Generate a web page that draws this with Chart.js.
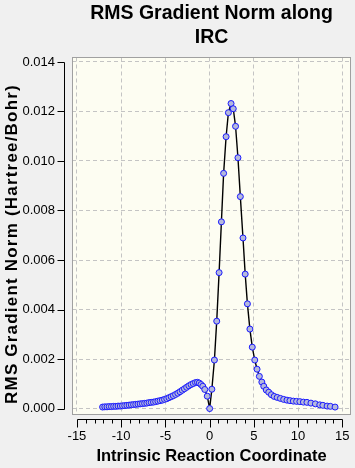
<!DOCTYPE html>
<html><head><meta charset="utf-8">
<script src="https://cdn.jsdelivr.net/npm/chart.js@4/dist/chart.umd.min.js"></script>
<style>html,body{margin:0;padding:0;background:#f0f0f0;overflow:hidden}</style>
</head><body>
<canvas id="c" width="355" height="468" style="display:block;width:355px;height:468px"></canvas>
<script>
// ---- data ----
const ircCoord = [
 -12.10,-11.85,-11.60,-11.35,-11.10,-10.85,-10.60,-10.35,-10.10,-9.85,
 -9.60,-9.35,-9.10,-8.85,-8.60,-8.35,-8.10,-7.85,-7.60,-7.35,
 -7.10,-6.85,-6.60,-6.35,-6.10,-5.85,-5.60,-5.35,-5.10,-4.85,
 -4.60,-4.35,-4.10,-3.85,-3.60,-3.35,-3.10,-2.85,-2.60,-2.35,
 -2.10,-1.85,-1.60,-1.38,-1.18,-0.98,-0.78,-0.55,-0.27,0.00,
 0.25,0.54,0.80,1.07,1.33,1.58,1.86,2.12,2.42,2.67,
 2.93,3.20,3.47,3.77,4.02,4.27,4.55,4.82,5.10,5.36,
 5.62,5.90,6.12,6.40,6.68,6.98,7.30,7.64,8.00,8.37,
 8.74,9.08,9.46,9.83,10.20,10.60,11.00,11.45,11.95,12.45,
 12.80,13.28,13.65,14.18
];
const rmsGradient = [
 0.00006,0.00007,0.00007,0.00008,0.00008,0.00009,0.00009,0.00010,0.00010,0.00011,
 0.00012,0.00013,0.00014,0.00015,0.00016,0.00017,0.00018,0.00019,0.00020,0.00021,
 0.00022,0.00024,0.00025,0.00026,0.00028,0.00030,0.00032,0.00034,0.00037,0.00040,
 0.00044,0.00048,0.00052,0.00057,0.00062,0.00068,0.00074,0.00080,0.00086,0.00092,
 0.00097,0.00101,0.00105,0.00106,0.00103,0.00097,0.00090,0.00077,0.00050,0.00000,
 0.00078,0.00196,0.00353,0.00549,0.00754,0.00950,0.01098,0.01195,0.01232,0.01211,
 0.01140,0.01013,0.00856,0.00689,0.00543,0.00423,0.00321,0.00248,0.00196,0.00159,
 0.00130,0.00107,0.00090,0.00075,0.00066,0.00056,0.00049,0.00045,0.00041,0.00037,
 0.00034,0.00032,0.00030,0.00029,0.00028,0.00026,0.00025,0.00022,0.00019,0.00015,
 0.00013,0.00010,0.00009,0.00006
];
const xTickValues = [-15,-10,-5,0,5,10,15];
const yTickValues = [0,0.002,0.004,0.006,0.008,0.010,0.012,0.014];
const chartTitle = ['RMS Gradient Norm along','IRC'];
const xAxisTitle = 'Intrinsic Reaction Coordinate';
const yAxisTitle = 'RMS Gradient Norm (Hartree/Bohr)';

const FONT = "'Liberation Sans', Arial, sans-serif";
const points = ircCoord.map((x,i)=>({x:x, y:rmsGradient[i]}));

const plotFrame = {
  id:'plotFrame',
  beforeDraw(chart){
    const {ctx, chartArea:a} = chart;
    ctx.save();
    ctx.fillStyle = '#fdfdf2';
    ctx.fillRect(a.left, a.top, a.right-a.left, a.bottom-a.top);
    ctx.restore();
  },
  afterDraw(chart){
    const {ctx, chartArea:a, scales:{x,y}} = chart;
    ctx.save();
    ctx.strokeStyle = '#a0a0a0'; ctx.lineWidth = 1;
    ctx.strokeRect(Math.round(a.left)+0.5, Math.round(a.top)+0.5, Math.round(a.right-a.left)-1, Math.round(a.bottom-a.top)-1);
    ctx.strokeStyle = '#000';
    // x axis (offset below plot)
    const ay = Math.round(a.bottom)+4.5;
    const x0 = x.getPixelForValue(xTickValues[0]);
    const x1 = x.getPixelForValue(xTickValues[xTickValues.length-1]);
    ctx.beginPath();
    ctx.moveTo(Math.round(x0)+0.5, ay); ctx.lineTo(Math.round(x1)+0.5, ay);
    for (let v = xTickValues[0]; v <= xTickValues[xTickValues.length-1]; v++) {
      const px = Math.round(x.getPixelForValue(v))+0.5;
      const len = xTickValues.includes(v) ? 8 : 4;
      ctx.moveTo(px, ay); ctx.lineTo(px, ay+len);
    }
    ctx.stroke();
    // y axis (offset left of plot)
    const ax = Math.round(a.left)-7.5;
    const y0 = y.getPixelForValue(yTickValues[0]);
    const y1 = y.getPixelForValue(yTickValues[yTickValues.length-1]);
    ctx.beginPath();
    ctx.moveTo(ax, Math.round(y0)+0.5); ctx.lineTo(ax, Math.round(y1)+0.5);
    yTickValues.forEach(v=>{
      const py = Math.round(y.getPixelForValue(v))+0.5;
      ctx.moveTo(ax, py); ctx.lineTo(ax-7, py);
    });
    ctx.stroke();
    // y axis title (rotated, slightly spaced)
    ctx.fillStyle = '#000';
    ctx.font = "bold 17px " + FONT;
    try { ctx.letterSpacing = '1.2px'; } catch(e) {}
    ctx.textAlign = 'center';
    ctx.textBaseline = 'middle';
    ctx.translate(12.5, 244);
    ctx.rotate(-Math.PI/2);
    ctx.fillText(yAxisTitle, 0, 0);
    ctx.restore();
  }
};

new Chart(document.getElementById('c'), {
  type:'scatter',
  data:{datasets:[{
    data: points,
    showLine:true,
    borderColor:'#000',
    borderWidth:1.4,
    tension:0,
    pointRadius:3,
    pointHoverRadius:3,
    pointBackgroundColor:'#b4b8dc',
    pointBorderColor:'#1a1aff',
    pointBorderWidth:1
  }]},
  options:{
    responsive:false,
    animation:false,
    events:[],
    layout:{padding:{left:0,right:2,top:0,bottom:0}},
    plugins:{
      legend:{display:false},
      tooltip:{enabled:false},
      title:{
        display:true, text:chartTitle, fullSize:false, color:'#000',
        font:{family:FONT, size:19.5, weight:'bold', lineHeight:1.23},
        padding:{top:2, bottom:7.5}
      }
    },
    scales:{
      x:{
        type:'linear', min:-15.56, max:15.98,
        afterBuildTicks(s){ s.ticks = xTickValues.map(v=>({value:v})); },
        afterFit(s){ s.height = 53; },
        grid:{color:'#c4c4c4', lineWidth:1, drawTicks:true, tickLength:14, tickColor:'rgba(0,0,0,0)'},
        border:{display:false, dash:[4,3]},
        ticks:{padding:0, color:'#000', font:{family:FONT, size:13}, maxRotation:0, callback:v=>String(v)},
        title:{display:true, text:xAxisTitle, color:'#000', font:{family:FONT, size:16.5, weight:'bold'}, padding:{top:0,bottom:1.5}}
      },
      y:{
        type:'linear', min:-0.00026, max:0.01418,
        afterBuildTicks(s){ s.ticks = yTickValues.map(v=>({value:v})); },
        afterFit(s){ s.width = 72; },
        grid:{color:'#c4c4c4', lineWidth:1, drawTicks:true, tickLength:17, tickColor:'rgba(0,0,0,0)'},
        border:{display:false, dash:[4,3]},
        ticks:{padding:0, color:'#000', font:{family:FONT, size:13}, callback:v=>v.toFixed(3)},
        title:{display:false}
      }
    }
  },
  plugins:[plotFrame]
});
</script>
</body></html>
